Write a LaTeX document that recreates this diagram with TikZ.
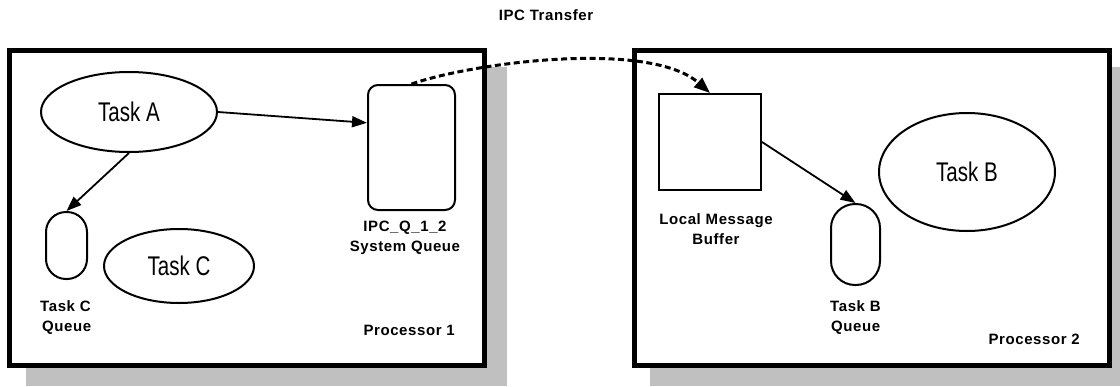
\documentclass[tikz,border=0pt]{standalone}
\usepackage{fontspec}
\setmainfont{Liberation Sans}
\newfontfamily\taskfont[FakeStretch=0.76]{Liberation Sans}
\newfontfamily\labfont[LetterSpace=4]{Liberation Sans}
\usetikzlibrary{arrows.meta,shapes.geometric}
\definecolor{shadegray}{HTML}{C0C0C0}
\tikzset{
  shadowbox/.style={fill=shadegray, draw=none},
  frame/.style={draw, line width=5pt, fill=white},
  task/.style={ellipse, draw, line width=2pt, inner sep=0pt,
    font=\taskfont\fontsize{27}{30}\selectfont},
  qbox/.style={draw, line width=2pt, inner sep=0pt, fill=white},
  lab/.style={inner sep=0pt, align=center,
    font=\labfont\bfseries\fontsize{15}{20}\selectfont},
  arr/.style={line width=1.8pt, -{Triangle[length=15pt,width=11pt]}},
  xfer/.style={line width=3pt, dash pattern=on 6pt off 3.5pt,
    -{Triangle[length=16pt,width=12pt]}}
}
\begin{document}
\begin{tikzpicture}[x=1pt,y=-1pt]
\useasboundingbox (0,0) rectangle (1120,386);

% drop shadows of the two processors
\fill[shadowbox] (26,67) rectangle (507,386);
\fill[shadowbox] (650,67) rectangle (1120,386);

% processor frames
\draw[frame] (9.5,50.5) rectangle (484.5,365.5);
\draw[frame] (634.5,50.5) rectangle (1109.5,365.5);

% ---- Processor 1 ----
\node[task, minimum width=176pt, minimum height=80pt] (taskA) at (129,112) {Task A};
\node[task, minimum width=150pt, minimum height=74pt] (taskC) at (179,266) {Task C};
\node[qbox, rounded corners=20pt, minimum width=41pt, minimum height=67pt] (tcq) at (66.5,245.5) {};
\node[qbox, rounded corners=10pt, minimum width=87pt, minimum height=125pt] (ipcq) at (411.5,147.5) {};

\node[lab, align=left, anchor=west] (tcqlab) at (40,318) {Task C\\\hspace*{2pt}Queue};
\node[lab] (ipcqlab) at (405,238) {IPC\_Q\_1\_2\\System Queue};
\node[lab, anchor=east] (p1lab) at (455,330) {Processor 1};

\draw[arr] (taskA.east) -- (ipcq.151);
\draw[arr] (taskA.south) -- (tcq.north);

% ---- Processor 2 ----
\node[qbox, minimum width=102pt, minimum height=96pt] (buf) at (710,142) {};
\node[qbox, rounded corners=24pt, minimum width=49pt, minimum height=81pt] (tbq) at (855.5,244.5) {};
\node[task, minimum width=176pt, minimum height=118pt] (taskB) at (967,172) {Task B};

\node[lab] (buflab) at (716,229) {Local Message\\Buffer};
\node[lab, align=left, anchor=west] (tbqlab) at (830,318) {Task B\\\hspace*{1pt}Queue};
\node[lab, anchor=east] (p2lab) at (1080,339) {Processor 2};

\draw[arr] (buf.east) -- (tbq.north);

% ---- transfer between processors ----
\node[lab] (xferlab) at (546,15) {IPC Transfer};
\draw[xfer] (ipcq.north) .. controls (475,62) and (650,40) .. (buf.north);
\end{tikzpicture}
\end{document}
